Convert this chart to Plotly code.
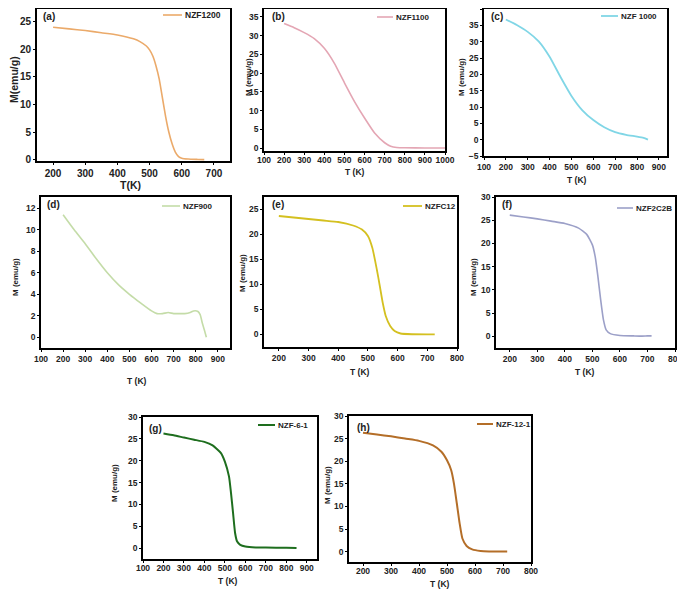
import plotly.graph_objects as go

# page body has an 8px margin, so the figure is sized to fill the rest of the 685x592 window
OFF = 8
W, H = 685 - OFF, 592 - OFF

# ---------------- data ----------------
t_a = [200, 250, 300, 350, 400, 450, 470, 490, 500, 510, 520, 530, 540, 550, 560, 570, 580, 590, 600, 620, 650, 670]
m_a = [24.0, 23.7, 23.4, 23.0, 22.6, 21.9, 21.4, 20.6, 19.9, 18.8, 17.0, 14.6, 11.2, 7.8, 5.0, 2.9, 1.4, 0.6, 0.3, 0.15, 0.08, 0.05]

t_b = [200, 250, 300, 350, 400, 450, 500, 550, 600, 650, 700, 730, 760, 800, 900, 1000]
m_b = [33.2, 32.1, 30.8, 29.2, 26.6, 22.6, 17.4, 12.4, 8.0, 4.0, 1.4, 0.5, 0.15, 0.05, 0.02, 0.0]

t_c = [200, 250, 300, 350, 400, 450, 500, 550, 600, 650, 700, 750, 800, 830, 850]
m_c = [36.8, 35.1, 33.0, 30.1, 25.4, 19.2, 13.4, 9.0, 6.0, 3.8, 2.3, 1.5, 0.95, 0.55, 0.0]

t_d = [200, 250, 300, 350, 400, 450, 500, 550, 600, 625, 650, 675, 700, 725, 750, 775, 790, 810, 820, 830, 840, 848]
m_d = [11.4, 10.0, 8.7, 7.3, 6.0, 4.9, 4.0, 3.2, 2.45, 2.2, 2.2, 2.3, 2.2, 2.2, 2.2, 2.3, 2.45, 2.4, 2.1, 1.3, 0.6, 0.0]

t_e = [200, 250, 300, 350, 400, 450, 480, 500, 515, 530, 540, 550, 560, 575, 590, 610, 650, 700, 725]
m_e = [23.7, 23.4, 23.1, 22.8, 22.5, 21.8, 21.0, 19.7, 17.3, 13.0, 9.7, 6.3, 3.7, 1.7, 0.7, 0.2, 0.05, 0.02, 0.02]

t_f = [200, 250, 300, 350, 400, 450, 480, 500, 510, 520, 530, 540, 550, 565, 600, 650, 680, 700, 715]
m_f = [26.1, 25.7, 25.3, 24.8, 24.3, 23.3, 21.9, 19.7, 17.2, 12.9, 7.9, 3.6, 1.4, 0.6, 0.2, 0.1, 0.05, 0.1, 0.1]

t_g = [200, 250, 300, 350, 400, 440, 480, 500, 520, 530, 540, 550, 560, 575, 600, 650, 700, 800, 850]
m_g = [26.2, 25.8, 25.3, 24.8, 24.3, 23.5, 21.8, 19.8, 16.4, 12.6, 8.0, 3.4, 1.5, 0.75, 0.35, 0.15, 0.15, 0.05, 0.0]

t_h = [200, 250, 300, 350, 400, 450, 480, 500, 515, 525, 535, 545, 555, 570, 590, 620, 650, 700, 715]
m_h = [26.3, 25.9, 25.5, 25.0, 24.5, 23.5, 22.1, 20.2, 18.0, 15.0, 10.7, 6.3, 2.9, 1.25, 0.5, 0.15, 0.05, 0.02, 0.02]

names = ["NZF1200", "NZF1100", "NZF 1000", "NZF900", "NZFC12", "NZF2C2B", "NZF-6-1", "NZF-12-1"]
tags = ["(a)", "(b)", "(c)", "(d)", "(e)", "(f)", "(g)", "(h)"]
xtitles = ["T(K)", "T (K)", "T (K)", "T (K)", "T (K)", "T (K)", "T (K)", "T (K)"]
ytitles = ["M(emu/g)", "M (emu/g)", "M (emu/g)", "M (emu/g)", "M (emu/g)", "M (emu/g)", "M (emu/g)", "M (emu/g)"]
xs = [t_a, t_b, t_c, t_d, t_e, t_f, t_g, t_h]
ys = [m_a, m_b, m_c, m_d, m_e, m_f, m_g, m_h]

# ---------------- styling / layout ----------------
colors = ["#EBAA6A", "#E4A6B4", "#80D6E6", "#C4DCA8", "#D4C020", "#9CA0C8", "#1E6E1E", "#B46E28"]
widths = [1.6, 1.6, 1.8, 1.6, 1.8, 1.6, 2.0, 2.0]
# plot boxes in window pixels: left, top, right, bottom
boxes = [(37, 9, 230, 161), (264, 9, 445, 151), (484, 9, 667, 156),
         (41, 197, 230, 348), (264, 197, 457, 347), (496, 197, 675, 348),
         (143, 417, 317, 559), (349, 416, 531, 562)]
xranges = [[150, 750], [100, 1000], [100, 937], [100, 955], [150, 800], [150, 800], [100, 950], [150, 800]]
yranges = [[-0.2, 27.3], [-0.8, 37.1], [-5, 40], [-1, 13.05], [-2.5, 27.5], [-2.5, 30], [-2.5, 30], [-2.3, 30]]
ydticks = [5, 5, 5, 2, 5, 5, 5, 5]
xstand = [0, -2, 0, 0, 0, 0, -2, -2]
leg_line = [(163, 182, 15), (377, 393, 17), (601, 618, 16), (162, 180, 206),
            (403, 422, 206), (617, 633, 208), (258, 275, 425), (477, 493, 424)]
tag_pos = [(41, 16), (270, 16), (489, 16), (45, 205), (270, 205), (500, 205), (147, 428), (355, 427)]
xt_pos = [(130, 185), (355, 172), (577, 180), (137, 381), (360, 372), (585, 372), (228, 581), (440, 584)]
yt_pos = [(14, 80), (249, 77), (462, 77), (15, 277), (242, 273), (473, 277), (114, 483), (327, 485)]

FONT = "Arial, Liberation Sans, sans-serif"

fig = go.Figure()
layout = dict(width=W, height=H, margin=dict(l=0, r=0, t=0, b=0, autoexpand=False),
              paper_bgcolor="white", plot_bgcolor="white", showlegend=False,
              font=dict(family=FONT, color="black"))
shapes, annots = [], []


def px(x):
    return min(1.0, max(0.0, (x - OFF) / W))


def py(y):
    return min(1.0, max(0.0, 1 - (y - OFF) / H))


for i in range(8):
    k = "" if i == 0 else str(i + 1)
    L, T, R, B = boxes[i]
    big = (i == 0)
    fig.add_trace(go.Scatter(x=xs[i], y=ys[i], mode="lines", name=names[i],
                             line=dict(color=colors[i], width=widths[i], shape="spline", smoothing=0.5),
                             xaxis="x" + k, yaxis="y" + k))
    common = dict(showline=True, mirror=True, linecolor="black", linewidth=1.8, automargin=False,
                  ticks="outside", ticklen=2, tickwidth=1.2, tickcolor="black",
                  showgrid=False, zeroline=False,
                  tickfont=dict(family=FONT, size=10 if big else 8.5, weight="bold", color="#222"))
    layout["xaxis" + k] = dict(domain=[px(L), px(R)], anchor="y" + k, range=xranges[i],
                               dtick=100, tick0=0, ticklabelstandoff=xstand[i], **common)
    layout["yaxis" + k] = dict(domain=[py(B), py(T)], anchor="x" + k, range=yranges[i],
                               dtick=ydticks[i], tick0=0, **common)
    # legend
    x0, x1, yl = leg_line[i]
    shapes.append(dict(type="line", xref="paper", yref="paper", x0=px(x0), x1=px(x1), y0=py(yl), y1=py(yl),
                       line=dict(color=colors[i], width=widths[i])))
    annots.append(dict(xref="paper", yref="paper", x=px(x1 + 1), y=py(yl), xanchor="left", yanchor="middle",
                       text=names[i], showarrow=False,
                       font=dict(family=FONT, size=8.5 if big else 8, weight="bold", color="#222")))
    tx, ty = tag_pos[i]
    annots.append(dict(xref="paper", yref="paper", x=px(tx), y=py(ty), xanchor="left", yanchor="middle",
                       text=tags[i], showarrow=False,
                       font=dict(family=FONT, size=10, weight="bold", color="#222")))
    # axis titles
    ax_, ay_ = xt_pos[i]
    annots.append(dict(xref="paper", yref="paper", x=px(ax_), y=py(ay_), xanchor="center", yanchor="middle",
                       text=xtitles[i], showarrow=False,
                       font=dict(family=FONT, size=10.5 if big else 8.5, weight="bold", color="#222")))
    bx_, by_ = yt_pos[i]
    annots.append(dict(xref="paper", yref="paper", x=px(bx_), y=py(by_), xanchor="center", yanchor="middle",
                       text=ytitles[i], showarrow=False, textangle=-90,
                       font=dict(family=FONT, size=10.5 if big else 8, weight="bold", color="#222")))

layout["shapes"] = shapes
layout["annotations"] = annots
fig.update_layout(**layout)
fig.write_html("out.html")
